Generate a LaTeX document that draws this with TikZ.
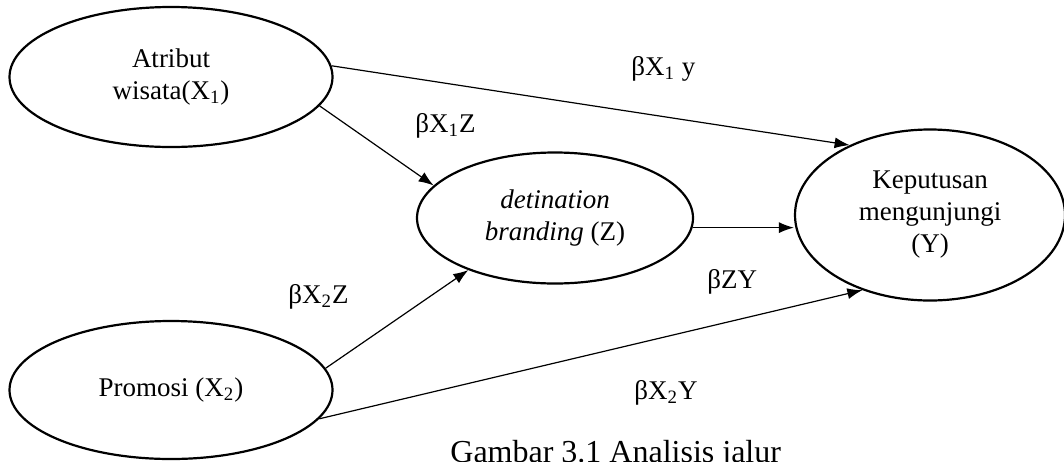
\documentclass[tikz,border=0pt]{standalone}
\usepackage{fontspec}
\setmainfont{Liberation Serif}
\usetikzlibrary{shapes.geometric,arrows.meta}
\tikzset{
  var/.style={ellipse,draw,line width=1.1pt,inner sep=0pt,align=center,font=\fontsize{13.5}{16}\selectfont},
  jalur/.style={-{Latex[length=7.5pt,width=5.5pt]},line width=0.6pt},
  koef/.style={anchor=base west,inner sep=0pt,font=\fontsize{13.5}{16}\selectfont},
}

\begin{document}
\begin{tikzpicture}[x=0.5pt,y=-0.5pt]
\useasboundingbox (0,0) rectangle (1064,461);
% ---- VARIABEL ----
\node[var,minimum width=161.5pt,minimum height=70pt] (x1) at (171,77) {Atribut\\wisata(X\textsubscript{1})};
\node[var,minimum width=161.5pt,minimum height=69pt] (x2) at (171,390) {Promosi (X\textsubscript{2})};
\node[var,minimum width=138pt,minimum height=65.5pt] (z) at (555,218) {\textit{detination}\\\textit{branding} (Z)};
\node[var,minimum width=135pt,minimum height=85.5pt] (y) at (930,215) {Keputusan\\mengunjungi\\(Y)};
% ---- JALUR ----
\draw[jalur] (x1.4) -- (y.139);
\draw[jalur] (x1.-11) -- (z.165);
\draw[jalur] (x2.8) -- (z.211);
\draw[jalur] (x2.-11) -- (y.228);
\draw[jalur] (z.-4) -- (z.-4 -| y.west);
% ---- KOEFISIEN ----
\node[koef] (bx1y) at (631,75) {βX\textsubscript{1} y};
\node[koef] (bx1z) at (415,132) {βX\textsubscript{1}Z};
\node[koef] (bx2z) at (288,303) {βX\textsubscript{2}Z};
\node[koef] (bzy) at (707,288) {βZY};
\node[koef] (bx2y) at (634,399) {βX\textsubscript{2}Y};
\node[anchor=base west,inner sep=0pt,font=\fontsize{16}{19}\selectfont] (judul) at (450,462) {Gambar 3.1 Analisis jalur};
\end{tikzpicture}
\end{document}
